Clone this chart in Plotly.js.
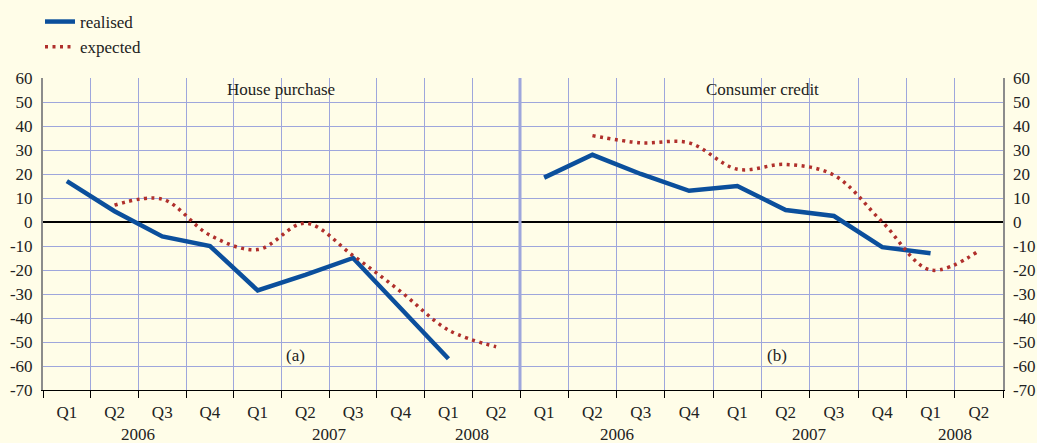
<!DOCTYPE html>
<html>
<head>
<meta charset="utf-8">
<script src="https://cdn.plot.ly/plotly-3.0.1.min.js"></script>
<style>html,body{margin:0;padding:0;background:#fffde8;}#chart{width:1037px;height:443px;}</style>
</head>
<body>
<div id="chart"></div>
<script>
const years = ['2006','2006','2006','2006','2007','2007','2007','2007','2008','2008'];
const quarters = ['Q1','Q2','Q3','Q4','Q1','Q2','Q3','Q4','Q1','Q2'];
const houseRealised = [17, 4.5, -6, -10, -28.5, -22, -15, -36, -57, null];
const houseExpected = [null, 7, 9.5, -5.5, -11.5, -0.5, -14, -29, -45, -52];
const consumerRealised = [18.5, 28, 20, 13, 15, 5, 2.5, -10.5, -13, null];
const consumerExpected = [null, 36, 33, 33, 22, 24, 19.5, 0, -20, -12];
const yTicks = [60,50,40,30,20,10,0,-10,-20,-30,-40,-50,-60,-70];

const blue = '#0b4f9c', red = '#b0302c';
const FONT = 'Liberation Serif, Times New Roman, serif';
const FS = 17;
const cats = quarters.map((q, i) => q + ' ' + years[i]);
const dotted = '3px,4.5px';

const traces = [
  {x: cats, y: houseRealised, xaxis:'x', yaxis:'y', name:'realised', mode:'lines',
   line:{color:blue, width:4.5}},
  {x: cats, y: houseExpected, xaxis:'x', yaxis:'y', name:'expected', mode:'lines',
   line:{color:red, width:3.5, dash:dotted, shape:'spline'}},
  {x: cats, y: consumerRealised, xaxis:'x2', yaxis:'y2', name:'realised', mode:'lines',
   line:{color:blue, width:4.5}, showlegend:false},
  {x: cats, y: consumerExpected, xaxis:'x2', yaxis:'y2', name:'expected', mode:'lines',
   line:{color:red, width:3.5, dash:dotted, shape:'spline'}, showlegend:false}
];

const grid = '#9ea6dc';
const xCommon = {
  type:'category', categoryorder:'array', categoryarray:cats,
  tickson:'boundaries', range:[-0.5, cats.length - 0.5], autorange:false,
  tickmode:'array', tickvals:cats, ticktext:quarters,
  showgrid:true, gridcolor:grid, gridwidth:1,
  showline:true, linecolor:'#000', linewidth:1, ticks:'outside', ticklen:7, tickcolor:'#000',
  tickfont:{family:FONT, size:FS, color:'#222'}, zeroline:false,
  ticklabelstandoff:7, automargin:false
};
const yCommon = {
  range:[-70,60], tickvals:yTicks, ticktext:yTicks.map(String), showgrid:true, gridcolor:grid, gridwidth:1,
  zeroline:true, zerolinecolor:'#000', zerolinewidth:1.2,
  tickfont:{family:FONT, size:FS, color:'#222'}, ticks:'', fixedrange:true,
  ticklabelstandoff:5, automargin:false
};
const split = 477/960;

// year labels centred under their quarters
const yearAnn = [];
['x','x2'].forEach(ax => {
  [...new Set(years)].forEach(yr => {
    const idx = years.map((y, i) => y === yr ? i : -1).filter(i => i >= 0);
    const mid = (idx[0] + idx[idx.length - 1]) / 2;
    yearAnn.push({text: yr, xref: ax, yref: 'paper', x: mid, y: -0.144, xanchor: 'center', yanchor: 'middle',
      showarrow: false, font: {family: FONT, size: FS, color: '#222'}});
  });
});

const ann = (text, x, y) => ({text, xref:'paper', yref:'paper', x, y, xanchor:'center', yanchor:'middle',
  showarrow:false, font:{family:FONT, size:FS, color:'#222'}});

const layout = {
  width:1037, height:443,
  margin:{l:43, r:34, t:78, b:53, autoexpand:false},
  paper_bgcolor:'#fffde8', plot_bgcolor:'#fffde8',
  font:{family:FONT, size:FS, color:'#222'},
  showlegend:true,
  legend:{xref:'container', yref:'container', x:40/1037, y:1-4/443, xanchor:'left', yanchor:'top',
          bgcolor:'rgba(0,0,0,0)', font:{family:FONT, size:FS, color:'#222'}, tracegroupgap:0},
  xaxis: Object.assign({}, xCommon, {domain:[0, split], anchor:'y'}),
  xaxis2: Object.assign({}, xCommon, {domain:[split, 1], anchor:'y2'}),
  yaxis: Object.assign({}, yCommon, {anchor:'x', side:'left', showline:true, linecolor:'#8c8c8c', linewidth:2}),
  yaxis2: Object.assign({}, yCommon, {anchor:'x2', side:'right', showline:true, linecolor:'#8c8c8c', linewidth:1.5}),
  shapes:[
    {type:'line', xref:'paper', yref:'paper', x0:split, x1:split, y0:0, y1:1, line:{color:'#9ea6dc', width:3}}
  ],
  annotations:[
    ann('House purchase', 0.248, 0.962),
    ann('Consumer credit', 0.749, 0.962),
    ann('(a)', 0.2635, 0.112),
    ann('(b)', 0.7646, 0.112)
  ].concat(yearAnn)
};
Plotly.newPlot('chart', traces, layout, {displayModeBar:false, staticPlot:true});
</script>
</body>
</html>
